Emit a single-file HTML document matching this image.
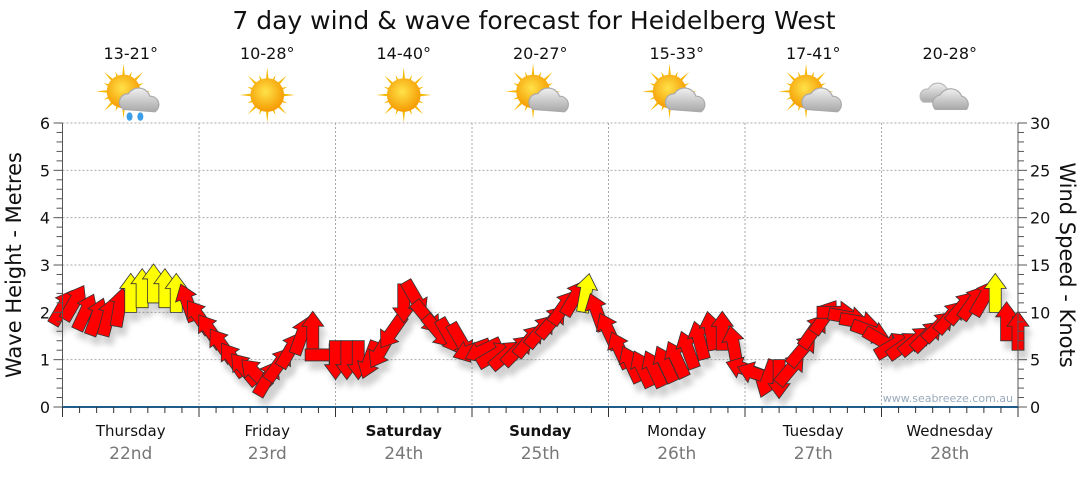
<!DOCTYPE html>
<html><head><meta charset="utf-8">
<style>
body{margin:0;background:#fff;font-family:"Liberation Sans","DejaVu Sans",sans-serif;}
svg text{font-family:"DejaVu Sans","Liberation Sans",sans-serif;}
</style></head>
<body>
<svg id="chart" width="1080" height="475" viewBox="0 0 1080 475" xmlns="http://www.w3.org/2000/svg">
<defs>
<filter id="sh" x="-50%" y="-50%" width="200%" height="200%"><feGaussianBlur stdDeviation="3"/></filter>
<radialGradient id="sun" cx="45%" cy="40%" r="60%"><stop offset="0" stop-color="#ffe24a"/><stop offset="1" stop-color="#f59a00"/></radialGradient>
<linearGradient id="cloud" x1="0" y1="0" x2="0" y2="1"><stop offset="0" stop-color="#f0f0f0"/><stop offset="1" stop-color="#a8a8a8"/></linearGradient>
</defs>
<text x="534" y="29" font-size="25" text-anchor="middle" fill="#111">7 day wind &amp; wave forecast for Heidelberg West</text>
<g id="topG"></g>
<g id="grid"></g>
<g id="shadows" opacity="0.3"></g>
<g id="arrows"></g>
<g id="axes"></g>
<text x="1013" y="402" font-size="11" text-anchor="end" fill="#9ab">www.seabreeze.com.au</text>
<text transform="translate(21,265) rotate(-90)" font-size="21" text-anchor="middle" fill="#111">Wave Height - Metres</text>
<text transform="translate(1060,265) rotate(90)" font-size="21" text-anchor="middle" fill="#111">Wind Speed - Knots</text>
</svg>
<script>
const days = ["Thursday","Friday","Saturday","Sunday","Monday","Tuesday","Wednesday"];
const dates = ["22nd","23rd","24th","25th","26th","27th","28th"];
const boldDays = [false,false,true,true,false,false,false];
const temps = ["13-21°","10-28°","14-40°","20-27°","15-33°","17-41°","20-28°"];
const icons = ["rain","sun","sun","partly","partly","partly","cloud"];
const leftTicks = [0,1,2,3,4,5,6];
const rightTicks = [0,5,10,15,20,25,30];
const windSpeed = [
10.5,11,10,9.5,9.5,10.5,12,12.5,13,12.5,12,11,
9.5,8,6.5,5,4,3.5,3,4.5,6,7.5,8,5.5,
5,5,5,5,6,8,11,11.5,9.5,8,7.5,7,
6,6,5.5,5.5,6,7,8,9,10.5,11.5,12,10,
8,6,4.5,4,4,4.5,5,6,7,8,8,6.5,
4,3.5,3,3,4,6,8,9.5,10,9.5,9,8,
7,6.5,6.5,7,7.5,8.5,9.5,10.5,11,11.5,12,9,8];
const windDir = [
30,30,25,20,15,10,0,0,0,0,0,-20,
-35,-35,-35,-35,-40,-45,30,35,30,20,0,90,
180,180,180,200,210,215,180,150,140,140,150,150,
250,245,60,50,45,40,40,40,35,30,10,-20,
-25,-25,-25,-25,-25,-25,-25,-20,-15,-10,0,-10,
-70,-70,200,180,40,40,35,35,90,100,100,110,
120,60,55,50,45,45,40,40,35,30,0,0,0];
const NS="http://www.w3.org/2000/svg";
const X0=62.5, X1=1018, Y0=407, Y6=123;
const dayW=(X1-X0)/7;
const yM=v=>Y0-(Y0-Y6)*v/6;
const yK=v=>Y0-(Y0-Y6)*v/30;
const xT=i=>X0+i*dayW/12;
function el(tag,attrs,parent){const e=document.createElementNS(NS,tag);for(const k in attrs)e.setAttribute(k,attrs[k]);parent.appendChild(e);return e;}
const grid=document.getElementById('grid'),axes=document.getElementById('axes'),topG=document.getElementById('topG');
leftTicks.forEach(v=>{
  if(v>0){const g=el('line',{x1:X0,x2:X1,y1:yM(v),y2:yM(v),stroke:'#aaa','stroke-dasharray':'2,2'},grid);
  
  }
  const t=el('text',{x:50,y:yM(v)+6,'font-size':16,'text-anchor':'end',fill:'#111'},axes);t.textContent=v;
  
  
});
rightTicks.forEach(v=>{
  const t=el('text',{x:1030,y:yK(v)+6,'font-size':16,fill:'#111'},axes);t.textContent=v;
  
  
});
for(let i=0;i<=30;i++){const y=yK(i);const l=(i%5==0)?9:6;
  el('line',{x1:X0-l,x2:X0,y1:y,y2:y,stroke:'#555'},axes);
  el('line',{x1:X1,x2:X1+l,y1:y,y2:y,stroke:'#555'},axes);}
el('line',{x1:X0,x2:X0,y1:Y6,y2:Y0,stroke:'#555'},axes);
el('line',{x1:X1,x2:X1,y1:Y6,y2:Y0,stroke:'#555'},axes);
el('line',{x1:X0,x2:X1,y1:Y0,y2:Y0,stroke:'#1f5c8a','stroke-width':2},axes);
for(let i=0;i<=56;i++){const x=X0+i*dayW/8;el('line',{x1:x,x2:x,y1:Y0,y2:Y0+(i%8==0?10:6),stroke:'#333'},axes);}
days.forEach((d,i)=>{
  const cx=X0+(i+0.5)*dayW;
  if(i>0){const g=el('line',{x1:X0+i*dayW,x2:X0+i*dayW,y1:Y6,y2:Y0,stroke:'#aaa','stroke-dasharray':'2,2'},grid);
    
    }
  const t=el('text',{x:cx,y:436,'font-size':15,'text-anchor':'middle',fill:'#111','font-weight':boldDays[i]?'bold':'normal'},axes);t.textContent=d;
  
  
  const t2=el('text',{x:cx,y:459,'font-size':17,'text-anchor':'middle',fill:'#777'},axes);t2.textContent=dates[i];
  
  
  const t3=el('text',{x:cx,y:59,'font-size':16,'text-anchor':'middle',fill:'#111'},topG);t3.textContent=temps[i];
  
  
  const g=el('g',{transform:`translate(${cx},95) scale(1.2)`},topG);
  
  
  const k=icons[i];
  if(k!=='cloud'){
    const sx=(k==='sun')?0:-6, sy=(k==='sun')?0:-3;
    for(let r=0;r<16;r++){const a=r*Math.PI/8;const L=(r%2?18:23);
      el('polygon',{points:`${sx+Math.cos(a-0.12)*11},${sy+Math.sin(a-0.12)*11} ${sx+Math.cos(a)*L},${sy+Math.sin(a)*L} ${sx+Math.cos(a+0.12)*11},${sy+Math.sin(a+0.12)*11}`,fill:'#f6b800'},g);}
    el('circle',{cx:sx,cy:sy,r:14,fill:'url(#sun)'},g);
  }
  if(k==='rain'||k==='partly'){
    el('path',{d:'M-6,12 a7,7 0 0 1 4,-13 a10,10 0 0 1 18,2 a7,7 0 0 1 4,13 z',fill:'url(#cloud)',stroke:'#aaa'},g);
    if(k==='rain'){el('ellipse',{cx:-1,cy:18,rx:2.5,ry:3.5,fill:'#3b9ee8'},g);el('ellipse',{cx:8,cy:18,rx:2.5,ry:3.5,fill:'#3b9ee8'},g);}
  }
  if(k==='cloud'){
    el('path',{d:'M-22,6 a6,6 0 0 1 4,-11 a9,9 0 0 1 16,0 a6,6 0 0 1 2,11 z',fill:'url(#cloud)',stroke:'#bbb'},g);
    el('path',{d:'M-12,12 a7,7 0 0 1 4,-12 a10,10 0 0 1 18,1 a7,7 0 0 1 4,11 z',fill:'url(#cloud)',stroke:'#aaa'},g);
  }
});
const shadows=document.getElementById('shadows'),arrows=document.getElementById('arrows');
const shape='M0,-20 L11,-5 L6,-5 L6,19 L-6,19 L-6,-5 L-11,-5 Z';
windSpeed.forEach((s,i)=>{
  const x=xT(i), y=yK(s), d=windDir[i];
  const sh=el('path',{d:shape,transform:`translate(${x+4},${y+9}) rotate(${d})`,fill:'#666',filter:'url(#sh)'},shadows);
  
  
  const a=el('path',{d:shape,transform:`translate(${x},${y}) rotate(${d})`,fill:s>=12?'#ffff00':'#ff0000',stroke:'#333','stroke-width':0.8},arrows);
  
  
});
</script>
</body></html>
